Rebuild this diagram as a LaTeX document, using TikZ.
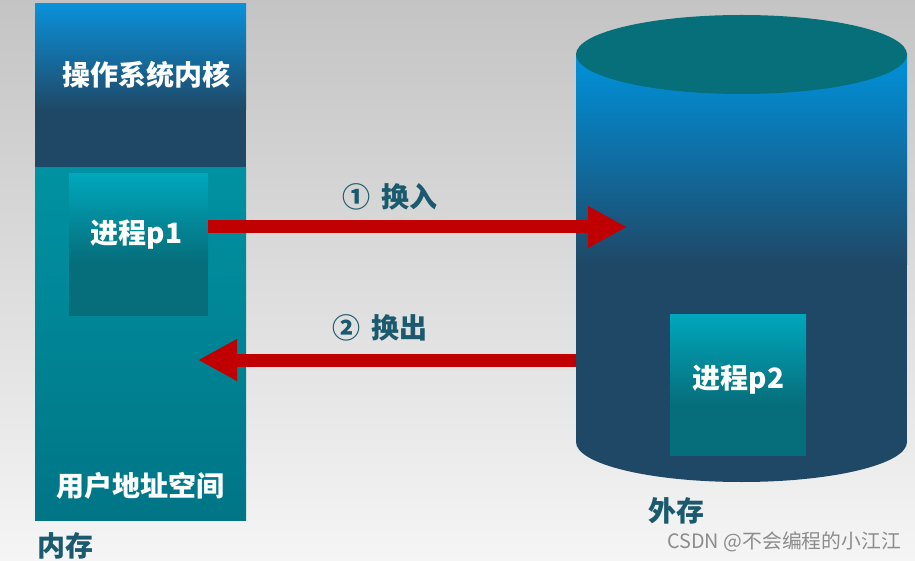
\documentclass[tikz,border=0pt]{standalone}
\usepackage{fontspec}
\setmainfont{Noto Sans CJK SC}
\usetikzlibrary{arrows.meta}
\definecolor{bgtop}{HTML}{C4C4C4}
\definecolor{bgmid}{HTML}{D4D4D4}
\definecolor{bgbot}{HTML}{F5F5F5}
\definecolor{kblue}{HTML}{0A91DA}
\definecolor{navy}{HTML}{1F4866}
\definecolor{tealA}{HTML}{0092A2}
\definecolor{tealB}{HTML}{007586}
\definecolor{pboxA}{HTML}{00A7BC}
\definecolor{pboxB}{HTML}{066E7B}
\definecolor{cyltop}{HTML}{066F7A}
\definecolor{cylblue}{HTML}{0092DC}
\definecolor{arrowred}{HTML}{C00000}
\definecolor{labelc}{HTML}{1B5A6E}
\definecolor{wmark}{HTML}{8C8C8C}
\tikzset{
  wtext/.style={text=white, font=\fontsize{28}{32}\selectfont\bfseries, anchor=base, inner sep=0pt},
  dtext/.style={text=labelc, font=\fontsize{28}{32}\selectfont\bfseries, anchor=base, inner sep=0pt},
  area/.style={inner sep=0pt, outer sep=0pt, anchor=north west},
  redarrow/.style={draw=arrowred, line width=13pt, -{Triangle[length=39pt,width=39pt]}}
}
\begin{document}
\begin{tikzpicture}[x=1pt,y=-1pt]
\useasboundingbox (0,0) rectangle (915,561);
\shade[top color=bgtop, middle color=bgmid, bottom color=bgbot] (0,0) rectangle (915,561);
% memory block
\shade[top color=kblue, bottom color=navy] (35,4) rectangle (246,110);
\fill[navy] (35,110) rectangle (246,168);
\shade[top color=tealA, bottom color=tealB] (35,168) rectangle (246,520);
\node[area, minimum width=211pt, minimum height=164pt] (kernelarea) at (35,4) {};
\node[area, minimum width=211pt, minimum height=352pt] (userarea) at (35,168) {};
% process p1
\shade[top color=pboxA, bottom color=pboxB] (69,174) rectangle (208,262);
\fill[pboxB] (69,262) rectangle (208,316);
\node[area, minimum width=139pt, minimum height=142pt] (p1) at (69,174) {};
% disk
\shade[top color=cylblue, bottom color=navy] (576,54) rectangle (907,265);
\fill[navy] (576,265) rectangle (907,442);
\fill[navy] (741.5,442) ellipse [x radius=165.5, y radius=40];
\fill[cyltop] (741.5,54.5) ellipse [x radius=165.5, y radius=39.5];
\node[area, minimum width=331pt, minimum height=388pt] (disk) at (576,54) {};
% process p2
\shade[top color=pboxA, bottom color=pboxB] (670,314) rectangle (806,404);
\fill[pboxB] (670,404) rectangle (806,456);
\node[area, minimum width=136pt, minimum height=142pt] (p2) at (670,314) {};
% texts
\node[wtext] (tkernel) at (146,86) {操作系统内核};
\node[wtext] (tp1) at (136.5,244) {进程p1};
\node[wtext] (tuser) at (140,496) {用户地址空间};
\node[wtext] (tp2) at (738.5,388) {进程p2};
\node[dtext] (tmem) at (65.5,556) {内存};
\node[dtext] (tdisk) at (676,521) {外存};
\node[dtext] (tin) at (390,208) {①\hspace{4pt} 换入};
\node[dtext] (tout) at (380,338) {②\hspace{4pt} 换出};
\node[text=wmark, font=\fontsize{19.8}{23}\selectfont, anchor=base east, inner sep=0pt] (wm) at (901,548) {CSDN @不会编程的小江江};
% arrows
\coordinate (inend) at (627,227);
\coordinate (outend) at (198,360);
\draw[redarrow] (p1.east |- inend) -- (inend);
\draw[redarrow] (disk.west |- outend) -- (outend);
\end{tikzpicture}
\end{document}
